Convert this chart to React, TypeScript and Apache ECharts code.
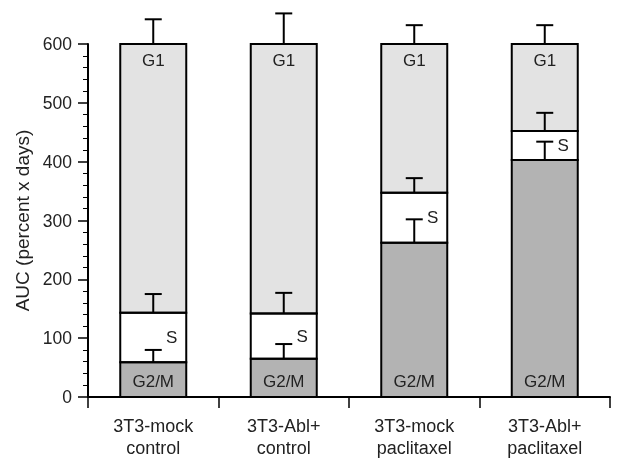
import React, { useEffect, useRef } from "react";
import * as echarts from "echarts";

const categories = ["3T3-mock\ncontrol", "3T3-Abl+\ncontrol", "3T3-mock\npaclitaxel", "3T3-Abl+\npaclitaxel"];
const g2m = [59, 65, 262, 403];
const sPhase = [84, 77, 85, 49];
const g1 = [457, 458, 253, 148];
const g2mErr = [21, 25, 40, 31];
const sErr = [32, 35, 25, 31];
const g1Err = [42, 52, 32, 32];
const yTitle = "AUC (percent x days)";

const FONT = "'Liberation Sans', Arial, Helvetica, sans-serif";
const BAR_W = 66;

export default function App() {
  const ref = useRef<HTMLDivElement>(null);
  useEffect(() => {
    if (!ref.current) return;
    const chart = echarts.init(ref.current, undefined, { renderer: "svg" });

    // rows: [category index, segment base, segment top, error]
    const segData: number[][] = [];
    categories.forEach((_, i) => {
      const b1 = g2m[i];
      const b2 = b1 + sPhase[i];
      const b3 = b2 + g1[i];
      segData.push([i, 0, b1, g2mErr[i]]);
      segData.push([i, b1, b2, sErr[i]]);
      segData.push([i, b2, b3, g1Err[i]]);
    });

    const barCommon = {
      type: "bar",
      stack: "auc",
      barWidth: BAR_W,
    };

    chart.setOption({
      animation: false,
      textStyle: { fontFamily: FONT },
      grid: { left: 88, right: 8, top: 44, bottom: 60 },
      xAxis: {
        type: "category",
        data: categories,
        axisLine: { lineStyle: { color: "#000", width: 2 } },
        axisTick: { show: true, length: 11, lineStyle: { color: "#000", width: 1.5 } },
        axisLabel: { color: "#222", fontSize: 18, fontFamily: FONT, margin: 18, lineHeight: 22 },
      },
      yAxis: {
        type: "value",
        min: 0,
        max: 600,
        interval: 100,
        name: yTitle,
        nameLocation: "middle",
        nameGap: 53,
        nameTextStyle: { color: "#222", fontSize: 19, fontFamily: FONT },
        axisLine: { show: true, lineStyle: { color: "#000", width: 2 } },
        axisTick: { show: true, length: 10, lineStyle: { color: "#000", width: 1.5 } },
        minorTick: { show: true, splitNumber: 5, length: 5, lineStyle: { color: "#000", width: 1 } },
        splitLine: { show: false },
        axisLabel: { color: "#222", fontSize: 17.5, fontFamily: FONT, margin: 16 },
      },
      series: [
        {
          ...barCommon,
          name: "G2/M",
          data: g2m,
          itemStyle: { color: "#b3b3b3" },
          label: { show: true, position: "insideBottom", distance: 7, formatter: "G2/M", color: "#222", fontSize: 17, fontFamily: FONT },
        },
        {
          ...barCommon,
          name: "S",
          data: sPhase,
          itemStyle: { color: "#ffffff" },
          label: { show: true, position: "insideRight", distance: 9, formatter: "S", color: "#222", fontSize: 17, fontFamily: FONT },
        },
        {
          ...barCommon,
          name: "G1",
          data: g1,
          itemStyle: { color: "#e3e3e3" },
          label: { show: true, position: "insideTop", distance: 8, formatter: "G1", color: "#222", fontSize: 17, fontFamily: FONT },
        },
        {
          type: "custom",
          name: "outline",
          clip: false,
          z: 10,
          data: segData,
          encode: { x: 0, y: 2 },
          renderItem: (params: any, api: any) => {
            const x = api.value(0);
            const base = api.value(1);
            const top = api.value(2);
            const err = api.value(3);
            const pb = api.coord([x, base]);
            const pt = api.coord([x, top]);
            const pe = api.coord([x, top + err]);
            const half = 8.5;
            const st = { stroke: "#000", lineWidth: 2, fill: "none" };
            return {
              type: "group",
              children: [
                { type: "rect", shape: { x: pb[0] - BAR_W / 2, y: pt[1], width: BAR_W, height: pb[1] - pt[1] }, style: st },
                { type: "line", shape: { x1: pt[0], y1: pt[1], x2: pt[0], y2: pe[1] }, style: { stroke: "#000", lineWidth: 2 } },
                { type: "line", shape: { x1: pt[0] - half, y1: pe[1], x2: pt[0] + half, y2: pe[1] }, style: { stroke: "#000", lineWidth: 2 } },
              ],
            };
          },
        },
      ],
    });
    return () => chart.dispose();
  }, []);
  return <div ref={ref} style={{ position: "fixed", left: 0, top: 0, width: 618, height: 459 }} />;
}
